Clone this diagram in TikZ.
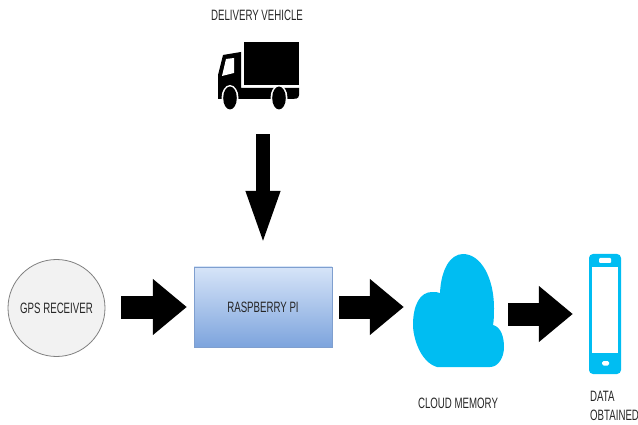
\documentclass[tikz,border=0pt]{standalone}
\usepackage{fontspec}
\setmainfont[FakeStretch=0.645]{Liberation Sans}
\usetikzlibrary{arrows.meta}
\definecolor{cloudblue}{HTML}{00BDF2}
\definecolor{pitop}{HTML}{D6E4F8}
\definecolor{pibottom}{HTML}{7DA4DD}
\definecolor{piline}{HTML}{7F9FCF}
\tikzset{
  bigarrow/.style={line width=23pt,draw=black,-{Triangle[length=34pt,width=54pt]}},
  downarrow/.style={line width=14pt,draw=black,-{Triangle[length=56pt,width=30pt]}},
  lbl/.style={inner sep=0pt,text=black!85,font=\fontsize{15}{19}\selectfont},
  holder/.style={inner sep=0pt,draw=none,fill=none}
}
\begin{document}
\begin{tikzpicture}[x=1pt,y=-1pt]
\useasboundingbox (0,0) rectangle (638,425);
% truck
\fill[black] (244,42) rectangle (299,85);
\fill[black] (223,55) -- (241,52) -- (241,88) -- (299,88) -- (299,95) .. controls (299,99) and (295,99) .. (292,99) -- (218,99) -- (218,75) -- cycle;
\fill[white] (226,59) -- (234,58) -- (234,73) -- (222,76) -- cycle;
\fill[white] (230,98) ellipse (8.5 and 13);
\fill[white] (279,98) ellipse (8.5 and 13);
\fill[black] (230,98) ellipse (6.8 and 11.5);
\fill[black] (279,98) ellipse (6.8 and 11.5);
\node[holder,minimum width=81pt,minimum height=68pt] (truck) at (258.5,76) {};
\node[lbl] (lt) at (257,15) {DELIVERY VEHICLE};
% gps
\node[circle,draw=black!50,fill=black!5,line width=0.8pt,minimum size=97pt,inner sep=0pt,lbl] (gps) at (56.5,308) {GPS RECEIVER};
% pi
\node[rectangle,draw=piline,top color=pitop,bottom color=pibottom,minimum width=138pt,minimum height=80pt,inner sep=0pt,lbl] (pi) at (263,307) {RASPBERRY PI};
% cloud
\fill[cloudblue] (437,367) .. controls (420,362) and (413,337) .. (413,325)
  .. controls (413,305) and (420,292) .. (432,292)
  .. controls (435,292) and (438,292) .. (440,293)
  .. controls (441,270) and (450,254) .. (463,254)
  .. controls (481,254) and (494,278) .. (494,308)
  .. controls (494,314) and (494,320) .. (493,325)
  .. controls (501,327) and (504,337) .. (504,347)
  .. controls (504,358) and (498,367) .. (490,367) -- cycle;
\node[holder,minimum width=91pt,minimum height=113pt] (cloud) at (458.5,310.5) {};
\node[lbl] (lc) at (458,403) {CLOUD MEMORY};
% phone
\fill[cloudblue,rounded corners=4pt] (589,254) rectangle (621,374);
\fill[white] (592,267) rectangle (618,353);
\fill[white,rounded corners=1pt] (599,258) rectangle (611,263);
\fill[white,rounded corners=1.5pt] (602,361) rectangle (609,365.5);
\node[holder,minimum width=32pt,minimum height=120pt] (phone) at (605,314) {};
\node[lbl,anchor=north west,align=left] (lp) at (590,391) {DATA\\OBTAINED};
% connectors
\draw[downarrow,shorten <=24pt,shorten >=20pt] (truck.south -| pi.north) -- (pi.north);
\draw[bigarrow,shorten <=16pt,shorten >=7pt] (gps.east |- pi.west) -- (pi.west);
\draw[bigarrow,shorten <=7pt,shorten >=9pt] (pi.east) -- (pi.east -| cloud.west);
\draw[bigarrow,shorten <=4pt,shorten >=16pt] (cloud.east |- phone.west) -- (phone.west);
\end{tikzpicture}
\end{document}
